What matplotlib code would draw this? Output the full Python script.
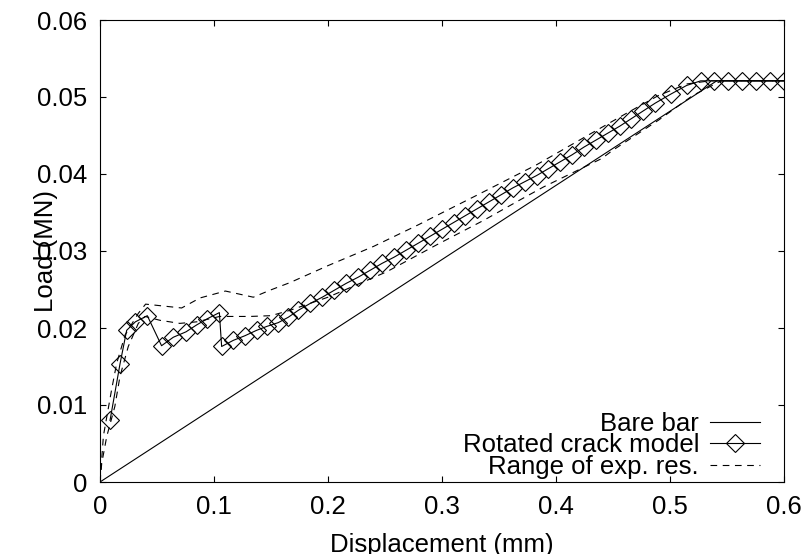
import matplotlib
matplotlib.use("Agg")
import matplotlib.pyplot as plt

plt.rcParams['font.family'] = ['Liberation Sans', 'DejaVu Sans']

# Bare bar (linear elastic steel only)
bare_x = [0.0, 0.541, 0.6]
bare_y = [0.0, 0.0521, 0.0521]

# Rotated crack model (diamond markers)
rcm_x = [0.0088, 0.0175, 0.0234, 0.031, 0.0415, 0.054, 0.0643, 0.0754, 0.0848, 0.0941, 0.1047,
         0.1067, 0.117, 0.1272, 0.1374, 0.1462, 0.1564, 0.1652, 0.174,
         0.1845, 0.195, 0.2055, 0.216, 0.2265, 0.237, 0.2475, 0.258, 0.2685, 0.279,
         0.2894, 0.2998, 0.3102, 0.3206, 0.331, 0.3414, 0.3518, 0.3622, 0.3726, 0.383,
         0.3934, 0.4038, 0.4142, 0.4246, 0.435, 0.4454, 0.4558, 0.4662, 0.4766, 0.487,
         0.501, 0.5146, 0.527,
         0.539, 0.551, 0.563, 0.575, 0.588, 0.6]
rcm_y = [0.0080, 0.0153, 0.0197, 0.0208, 0.0216, 0.0177, 0.0188, 0.0195, 0.0204, 0.0212, 0.0220,
         0.0176, 0.0184, 0.0190, 0.0197, 0.0202, 0.0207, 0.0214, 0.0223,
         0.0232, 0.0240, 0.0249, 0.0258, 0.0266, 0.0275, 0.0284, 0.0292, 0.0301, 0.0310,
         0.0319, 0.0328, 0.0337, 0.0346, 0.0355, 0.0364, 0.0373, 0.0382, 0.0390, 0.0398,
         0.0407, 0.0416, 0.0425, 0.0435, 0.0444, 0.0453, 0.0462, 0.0472, 0.0482, 0.0492,
         0.0504, 0.0515, 0.0521,
         0.0521, 0.0521, 0.0521, 0.0521, 0.0521, 0.0521]

# Range of experimental results: upper and lower bound
exp_hi_x = [0.0, 0.003, 0.0102, 0.0146, 0.022, 0.0336, 0.040, 0.0716, 0.0877, 0.110, 0.1345,
            0.149, 0.1667, 0.2, 0.24, 0.2792, 0.33, 0.383, 0.43, 0.462, 0.49, 0.515, 0.535, 0.6]
exp_hi_y = [0.0, 0.0060, 0.0120, 0.0154, 0.0191, 0.0219, 0.0231, 0.0226, 0.0239, 0.0248, 0.0240,
            0.0249, 0.0259, 0.0281, 0.0306, 0.0334, 0.0372, 0.0412, 0.0452, 0.0479, 0.0502, 0.0517, 0.0521, 0.0521]
exp_lo_x = [0.0, 0.0015, 0.0059, 0.013, 0.0175, 0.0248, 0.0336, 0.0395, 0.0526, 0.070, 0.0848,
            0.105, 0.1316, 0.150, 0.1667, 0.2, 0.2515, 0.2953, 0.3368, 0.368, 0.3888, 0.44, 0.45,
            0.49, 0.52, 0.545, 0.6]
exp_lo_y = [0.0, 0.0024, 0.0059, 0.0098, 0.0137, 0.0176, 0.0206, 0.0215, 0.0210, 0.0206, 0.0208,
            0.0215, 0.0215, 0.0216, 0.0223, 0.0240, 0.0273, 0.0308, 0.0340, 0.0366, 0.0383, 0.0420, 0.0431,
            0.0470, 0.0502, 0.0521, 0.0521]

fs = 18.5

fig = plt.figure(figsize=(8.08, 5.54), dpi=100)
ax = fig.add_axes([100 / 808, 72 / 554, 684 / 808, 462 / 554])

lw = 0.8
ax.plot(bare_x, bare_y, color='black', linewidth=lw, label='Bare bar')
ax.plot(rcm_x, rcm_y, color='black', linewidth=lw, marker='D', markersize=9.5,
        markerfacecolor='none', markeredgecolor='black', markeredgewidth=0.8,
        label='Rotated crack model')
ax.plot(exp_hi_x, exp_hi_y, color='black', linewidth=lw, dashes=(6, 5), label='Range of exp. res.')
ax.plot(exp_lo_x, exp_lo_y, color='black', linewidth=lw, dashes=(6, 5))

ax.set_xlim(0, 0.6)
ax.set_ylim(0, 0.06)
ax.set_xticks([0, 0.1, 0.2, 0.3, 0.4, 0.5, 0.6])
ax.set_xticklabels(['0', '0.1', '0.2', '0.3', '0.4', '0.5', '0.6'])
ax.set_yticks([0, 0.01, 0.02, 0.03, 0.04, 0.05, 0.06])
ax.set_yticklabels(['0', '0.01', '0.02', '0.03', '0.04', '0.05', '0.06'])
ax.tick_params(direction='in', length=4, width=0.8, top=True, right=True, labelsize=fs)
ax.tick_params(axis='x', pad=9)
ax.tick_params(axis='y', pad=9)
for s in ax.spines.values():
    s.set_linewidth(0.8)

ax.set_xlabel('Displacement (mm)', fontsize=fs)
ax.set_ylabel('Load (MN)', fontsize=fs)
ax.xaxis.set_label_coords(0.5, -0.11)
ax.yaxis.set_label_coords(-0.062, 0.5)

ax.legend(loc='lower right', bbox_to_anchor=(0.969, 0.0), frameon=False, fontsize=fs,
          markerfirst=False, alignment='right', handlelength=1.95, handletextpad=0.43,
          labelspacing=-0.08, borderpad=0.1, borderaxespad=0.0)

fig.savefig('out.png', dpi=100)
